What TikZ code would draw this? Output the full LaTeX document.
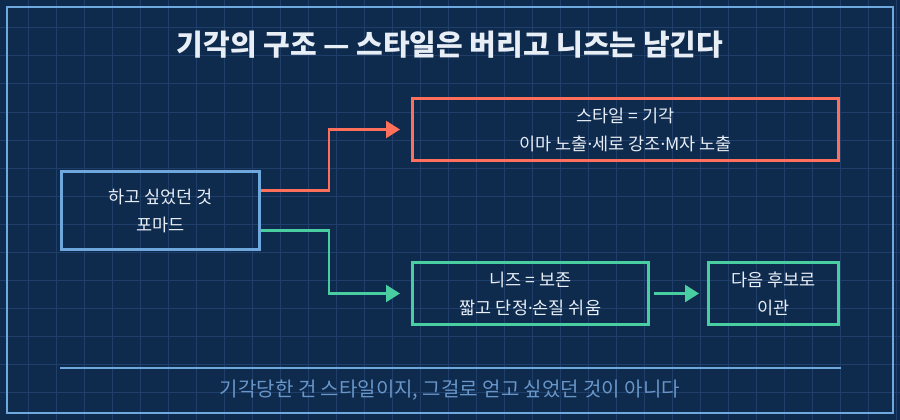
\documentclass[tikz,border=0pt]{standalone}
\usepackage{fontspec}
\usepackage{tikz}
\usepackage{xcolor}
\usetikzlibrary{arrows.meta}
\setmainfont{Noto Sans CJK KR}
\newfontfamily\latinfont{Noto Sans}
\newcommand{\mdot}{{\latinfont ·}}
\definecolor{bg}{RGB}{14,42,77}
\definecolor{gridblue}{RGB}{31,63,106}
\definecolor{frameblue}{RGB}{111,168,220}
\definecolor{red}{RGB}{255,112,92}
\definecolor{green}{RGB}{72,206,160}
\definecolor{ink}{RGB}{232,238,246}
\definecolor{muted}{RGB}{104,150,200}

\begin{document}
\begin{tikzpicture}[x=1pt,y=-1pt,
    box/.style={draw,line width=3pt,minimum height=62pt,inner sep=0pt,align=center,text=ink,
      font=\fontsize{17.5pt}{28pt}\selectfont},
    link/.style={line width=2.5pt,-{Triangle[length=14pt,width=17pt]}}]
                % Background
                \useasboundingbox (0,0) rectangle (900,420);
                \fill[bg] (0,0) rectangle (900,420);
                
                % Grid
                \foreach \x in {28,56,...,896} \draw[gridblue,line width=1pt] (\x,0) -- (\x,420);
                \foreach \y in {28,56,...,420} \draw[gridblue,line width=1pt] (0,\y) -- (900,\y);
                
                % Frame
                \draw[frameblue,line width=2pt] (7,7) rectangle (893,413);
                
                % Title
                \node[text=ink,font=\fontsize{29pt}{32pt}\selectfont\bfseries] (title) at (450,45)
                  {기각의 구조 — 스타일은 버리고 니즈는 남긴다};
                
                % Boxes
                \node[box,draw=frameblue,minimum width=198pt,minimum height=78pt] (want) at (160.5,210.5)
                  {하고 싶었던 것\\포마드};
                \node[box,draw=red,minimum width=426pt] (style) at (625.5,129.5)
                  {스타일 = 기각\\이마 노출\mdot 세로 강조\mdot M자 노출};
                \node[box,draw=green,minimum width=236pt] (need) at (530.5,293.5)
                  {니즈 = 보존\\짧고 단정\mdot 손질 쉬움};
                \node[box,draw=green,minimum width=130pt] (next) at (773.5,293.5)
                  {다음 후보로\\이관};
                
                % Arrows
                \draw[link,red,shorten >=11pt] ([yshift=20pt]want.east) -- ++(68,0) |- (style.west);
                \draw[link,green,shorten >=11pt] ([yshift=-20pt]want.east) -- ++(68,0) |- (need.west);
                \draw[link,green,shorten <=4pt,shorten >=8pt] (need.east) -- (next.west);
                
                % Footer
                \coordinate (lineL) at (60,368);
                \coordinate (lineR) at (841,368);
                \draw[frameblue,line width=1.2pt] (lineL) -- (lineR);
                \node[text=muted,font=\fontsize{20pt}{22pt}\selectfont] (note) at (450,390)
                  {기각당한 건 스타일이지, 그걸로 얻고 싶었던 것이 아니다};
            \end{tikzpicture}
\end{document}
